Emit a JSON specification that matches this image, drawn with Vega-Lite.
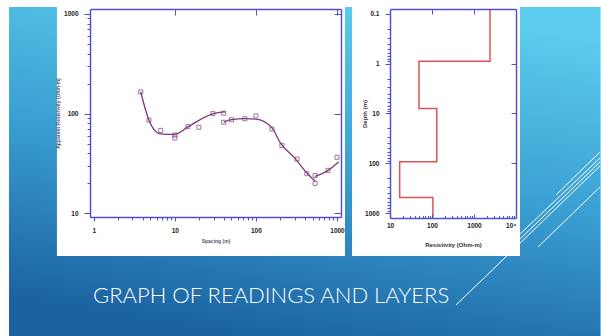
{
  "$schema": "https://vega.github.io/schema/vega-lite/v6.json",
  "background": "white",
  "padding": {"left": 9, "top": 6, "right": 0, "bottom": 0},
  "autosize": {"type": "pad"},
  "bounds": "flush",
  "spacing": 49,
  "config": {
    "view": {"stroke": null},
    "axis": {
      "grid": false,
      "domainColor": "#5050d0",
      "domainWidth": 1.5,
      "tickColor": "#5050d0",
      "tickWidth": 1,
      "labelFont": "Liberation Sans",
      "labelFontWeight": "bold",
      "labelFontSize": 6.5,
      "labelColor": "#222222",
      "labelOverlap": false,
      "labelFlush": false,
      "titleFont": "Liberation Sans",
      "titleFontWeight": "bold",
      "titleFontSize": 6,
      "titleColor": "#444444"
    }
  },
  "datasets": {
    "readings": [
      {"spacing": 3.8, "res": 165},
      {"spacing": 4.8, "res": 86},
      {"spacing": 6.7, "res": 68},
      {"spacing": 10, "res": 61},
      {"spacing": 10, "res": 57},
      {"spacing": 14.5, "res": 74},
      {"spacing": 19.8, "res": 73},
      {"spacing": 29.5, "res": 100},
      {"spacing": 40, "res": 101},
      {"spacing": 40, "res": 82},
      {"spacing": 50, "res": 87},
      {"spacing": 73, "res": 89},
      {"spacing": 100, "res": 95},
      {"spacing": 158, "res": 70},
      {"spacing": 209, "res": 48},
      {"spacing": 321, "res": 35},
      {"spacing": 425, "res": 25},
      {"spacing": 537, "res": 20},
      {"spacing": 537, "res": 24},
      {"spacing": 775, "res": 27},
      {"spacing": 1000, "res": 36.5}
    ],
    "curve": [
      {"seg": "A", "spacing": 3.8, "res": 165},
      {"seg": "A", "spacing": 4.8, "res": 86},
      {"seg": "A", "spacing": 6.5, "res": 63},
      {"seg": "A", "spacing": 8, "res": 62},
      {"seg": "A", "spacing": 10, "res": 62},
      {"seg": "A", "spacing": 15, "res": 75},
      {"seg": "A", "spacing": 30, "res": 100},
      {"seg": "A", "spacing": 42, "res": 104},
      {"seg": "B", "spacing": 40, "res": 82},
      {"seg": "B", "spacing": 50, "res": 87},
      {"seg": "B", "spacing": 73, "res": 89},
      {"seg": "B", "spacing": 100, "res": 88},
      {"seg": "B", "spacing": 158, "res": 72},
      {"seg": "B", "spacing": 200, "res": 51},
      {"seg": "B", "spacing": 300, "res": 36},
      {"seg": "B", "spacing": 425, "res": 25.4},
      {"seg": "B", "spacing": 537, "res": 21},
      {"seg": "C", "spacing": 537, "res": 23.5},
      {"seg": "C", "spacing": 775, "res": 27},
      {"seg": "C", "spacing": 1050, "res": 33}
    ],
    "profile": [
      {"order": 1, "res": 2400, "depth": 0.08},
      {"order": 2, "res": 2400, "depth": 0.9},
      {"order": 3, "res": 49, "depth": 0.9},
      {"order": 4, "res": 49, "depth": 8},
      {"order": 5, "res": 130, "depth": 8},
      {"order": 6, "res": 130, "depth": 93},
      {"order": 7, "res": 17, "depth": 93},
      {"order": 8, "res": 17, "depth": 490},
      {"order": 9, "res": 105, "depth": 490},
      {"order": 10, "res": 105, "depth": 1260}
    ]
  },
  "hconcat": [
    {
      "width": 251,
      "height": 208,
      "layer": [
        {
          "data": {"values": [{}]},
          "mark": {"type": "rect", "fill": {"gradient": "linear", "x1": 0.7, "y1": 0, "x2": 0.4, "y2": 1, "stops": [{"offset": 0, "color": "#5ccdee"}, {"offset": 0.5, "color": "#3a9fd2"}, {"offset": 1, "color": "#1b62a0"}]}},
          "encoding": {
            "x": {"datum": 0.0903, "type": "quantitative", "scale": {"type": "log", "domain": [0.9, 1120]}, "axis": null},
            "x2": {"datum": 1778000},
            "y": {"datum": 1173, "type": "quantitative", "scale": {"type": "log", "domain": [9.2, 1120]}, "axis": null},
            "y2": {"datum": 0.5817}
          }
        },
        {
          "data": {"values": [{}]},
          "mark": {"type": "rule", "color": "white", "strokeWidth": 1},
          "encoding": {
            "x": {"datum": 29320, "type": "quantitative", "scale": {"type": "log", "domain": [0.9, 1120]}, "axis": null},
            "x2": {"datum": 1749000},
            "y": {"datum": 1.206, "type": "quantitative", "scale": {"type": "log", "domain": [9.2, 1120]}, "axis": null},
            "y2": {"datum": 29.87}
          }
        },
        {
          "data": {"values": [{}]},
          "mark": {"type": "rule", "color": "white", "strokeWidth": 1},
          "encoding": {
            "x": {"datum": 170400, "type": "quantitative", "scale": {"type": "log", "domain": [0.9, 1120]}, "axis": null},
            "x2": {"datum": 1749000},
            "y": {"datum": 5.29, "type": "quantitative", "scale": {"type": "log", "domain": [9.2, 1120]}, "axis": null},
            "y2": {"datum": 32.75}
          }
        },
        {
          "data": {"values": [{}]},
          "mark": {"type": "rule", "color": "white", "strokeWidth": 1},
          "encoding": {
            "x": {"datum": 170400, "type": "quantitative", "scale": {"type": "log", "domain": [0.9, 1120]}, "axis": null},
            "x2": {"datum": 1749000},
            "y": {"datum": 5.93, "type": "quantitative", "scale": {"type": "log", "domain": [9.2, 1120]}, "axis": null},
            "y2": {"datum": 35.9}
          }
        },
        {
          "data": {"values": [{}]},
          "mark": {"type": "rule", "color": "white", "strokeWidth": 1},
          "encoding": {
            "x": {"datum": 501500, "type": "quantitative", "scale": {"type": "log", "domain": [0.9, 1120]}, "axis": null},
            "x2": {"datum": 1749000},
            "y": {"datum": 15.29, "type": "quantitative", "scale": {"type": "log", "domain": [9.2, 1120]}, "axis": null},
            "y2": {"datum": 41.25}
          }
        },
        {
          "data": {"values": [{}]},
          "mark": {"type": "rule", "color": "white", "strokeWidth": 1},
          "encoding": {
            "x": {"datum": 300800, "type": "quantitative", "scale": {"type": "log", "domain": [0.9, 1120]}, "axis": null},
            "x2": {"datum": 1749000},
            "y": {"datum": 4.6, "type": "quantitative", "scale": {"type": "log", "domain": [9.2, 1120]}, "axis": null},
            "y2": {"datum": 18.39}
          }
        },
        {
          "data": {"values": [{}]},
          "mark": {"type": "rect", "fill": "white"},
          "encoding": {
            "x": {"datum": 0.352, "type": "quantitative", "scale": {"type": "log", "domain": [0.9, 1120]},
              "axis": {"orient": "top", "zindex": 1, "values": [10, 100, 1000], "labels": false, "tickSize": -6, "title": null}},
            "x2": {"datum": 1254},
            "y": {"datum": 1173, "type": "quantitative", "scale": {"type": "log", "domain": [9.2, 1120]},
              "axis": {"orient": "right", "zindex": 1, "values": [10, 100, 1000], "labels": false, "tickSize": -7, "title": null}},
            "y2": {"datum": 3.74}
          }
        },
        {
          "data": {"name": "curve"},
          "mark": {"type": "line", "interpolate": "monotone", "color": "#7b3a78", "strokeWidth": 1.3},
          "encoding": {
            "x": {"field": "spacing", "type": "quantitative", "scale": {"type": "log", "domain": [0.9, 1120]}, "axis": null},
            "y": {"field": "res", "type": "quantitative", "scale": {"type": "log", "domain": [9.2, 1120]}, "axis": null},
            "detail": {"field": "seg"}
          }
        },
        {
          "data": {"name": "readings"},
          "mark": {"type": "point", "shape": "square", "filled": false, "size": 16, "strokeWidth": 1, "color": "#7b3a78"},
          "encoding": {
            "x": {"field": "spacing", "type": "quantitative", "scale": {"type": "log", "domain": [0.9, 1120]},
              "axis": {"orient": "bottom", "zindex": 1, "title": "Spacing (m)", "titleFontSize": 5, "titleColor": "#556", "titlePadding": 5,
                "values": [1, 2, 3, 4, 5, 6, 7, 8, 9, 10, 20, 30, 40, 50, 60, 70, 80, 90, 100, 200, 300, 400, 500, 600, 700, 800, 900, 1000],
                "labelExpr": "indexof([1,10,100,1000], datum.value) >= 0 ? format(datum.value, 'd') : ''",
                "tickSize": {"condition": {"test": "indexof([1,10,100,1000], datum.value) >= 0", "value": 4}, "value": 3},
                "labelPadding": 6}},
            "y": {"field": "res", "type": "quantitative", "scale": {"type": "log", "domain": [9.2, 1120]},
              "axis": {"orient": "left", "zindex": 1, "title": "Apparent Resistivity (Ohm-m)", "titleFontSize": 5, "titleColor": "#556", "titlePadding": 3,
                "values": [10, 20, 30, 40, 50, 60, 70, 80, 90, 100, 200, 300, 400, 500, 600, 700, 800, 900, 1000],
                "labelExpr": "indexof([10,100,1000], datum.value) >= 0 ? format(datum.value, 'd') : ''",
                "tickSize": {"condition": {"test": "indexof([10,100,1000], datum.value) >= 0", "value": 6}, "value": 3},
                "labelPadding": 6}}
          }
        }
      ]
    },
    {
      "width": 126,
      "height": 209,
      "title": {"text": "GRAPH OF READINGS AND LAYERS", "orient": "bottom", "anchor": "start", "frame": "group", "dx": -297, "offset": 30, "color": "white", "fontSize": 22, "font": "Lato", "fontWeight": 300},
      "layer": [
        {
          "data": {"values": [{}]},
          "mark": {"type": "rect", "fill": "white"},
          "encoding": {
            "x": {"datum": 1.245, "type": "quantitative", "scale": {"type": "log", "domain": [10, 10000]},
              "axis": {"orient": "top", "zindex": 1, "values": [100, 1000], "labels": false, "tickSize": -5, "title": null}},
            "x2": {"datum": 12450},
            "y": {"datum": 0.0729, "type": "quantitative", "scale": {"type": "log", "domain": [0.08, 1260], "reverse": true},
              "axis": {"orient": "right", "zindex": 1, "values": [1, 10, 100], "labels": false, "tickSize": -5, "title": null}},
            "y2": {"datum": 7300}
          }
        },
        {
          "data": {"name": "profile"},
          "mark": {"type": "line", "color": "#e05252", "strokeWidth": 1.5},
          "encoding": {
            "x": {"field": "res", "type": "quantitative", "scale": {"type": "log", "domain": [10, 10000]},
              "axis": {"orient": "bottom", "zindex": 1, "title": "Resistivity (Ohm-m)", "titleFontSize": 6, "titleColor": "#333", "titlePadding": 11,
                "values": [10, 20, 30, 40, 50, 60, 70, 80, 90, 100, 200, 300, 400, 500, 600, 700, 800, 900, 1000, 2000, 3000, 4000, 5000, 6000, 7000, 8000, 9000, 10000],
                "labelExpr": "datum.value == 10000 ? '10⁴' : indexof([10,100,1000], datum.value) >= 0 ? format(datum.value, 'd') : ''",
                "labelAlign": {"condition": {"test": "datum.value == 10000", "value": "right"}, "value": "center"},
                "tickSize": {"condition": {"test": "indexof([10,100,1000,10000], datum.value) >= 0", "value": -4}, "value": -2.5},
                "labelPadding": 8}},
            "y": {"field": "depth", "type": "quantitative", "scale": {"type": "log", "domain": [0.08, 1260], "reverse": true},
              "axis": {"orient": "left", "zindex": 1, "title": "Depth (m)", "titleFontSize": 6, "titleColor": "#333", "titlePadding": -3,
                "values": [0.1, 0.2, 0.3, 0.4, 0.5, 0.6, 0.7, 0.8, 0.9, 1, 2, 3, 4, 5, 6, 7, 8, 9, 10, 20, 30, 40, 50, 60, 70, 80, 90, 100, 200, 300, 400, 500, 600, 700, 800, 900, 1000],
                "labelExpr": "datum.value == 0.1 ? '0.1' : indexof([1,10,100,1000], datum.value) >= 0 ? format(datum.value, 'd') : ''",
                "tickSize": {"condition": {"test": "indexof([0.1,1,10,100,1000], datum.value) >= 0", "value": 5}, "value": 3},
                "labelPadding": 6}},
            "order": {"field": "order", "type": "quantitative"}
          }
        }
      ]
    }
  ]
}
